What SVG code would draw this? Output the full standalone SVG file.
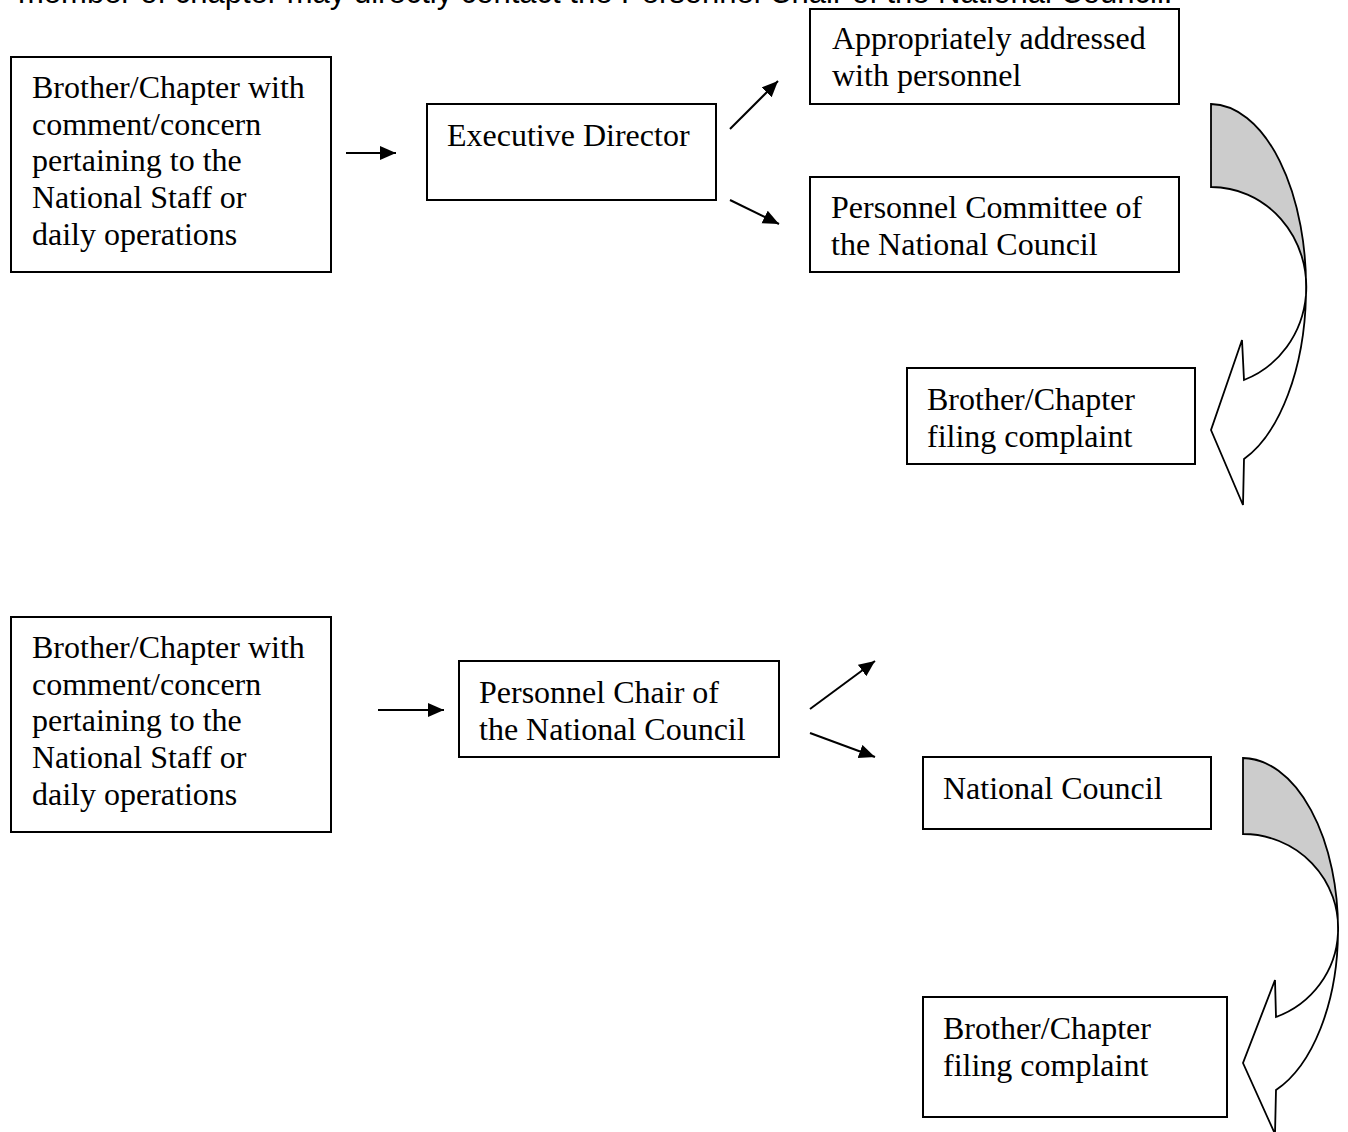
<svg xmlns="http://www.w3.org/2000/svg" width="1348" height="1132" viewBox="0 0 1348 1132">
<defs>
<style>
.box{fill:#ffffff;stroke:#000000;stroke-width:2}
.t{font-family:"Liberation Serif","Times New Roman",serif;font-size:32px;fill:#000000}
.hdr{font-family:"Liberation Sans",Arial,sans-serif;font-size:31px;fill:#000000}
.conn{stroke:#000000;stroke-width:2;fill:none;marker-end:url(#ah)}
.back{fill:#cccccc;stroke:#000000;stroke-width:1.8;stroke-linejoin:miter}
.front{fill:#ffffff;stroke:#000000;stroke-width:1.8;stroke-linejoin:miter}
</style>
<marker id="ah" markerUnits="userSpaceOnUse" markerWidth="18" markerHeight="16" refX="16" refY="7" orient="auto" viewBox="0 0 18 16">
<path d="M0,0 L16,7 L0,14 Z" fill="#000000"/>
</marker>
</defs>
<rect width="1348" height="1132" fill="#ffffff"/>
<text class="hdr" x="18" y="3">member of chapter may directly contact the Personnel Chair of the National Council.</text>

<g id="node-brother-1">
<rect class="box" x="11" y="57" width="320" height="215"/>
<text class="t" x="32" y="98">Brother/Chapter with</text>
<text class="t" x="32" y="135">comment/concern</text>
<text class="t" x="32" y="171">pertaining to the</text>
<text class="t" x="32" y="208">National Staff or</text>
<text class="t" x="32" y="245">daily operations</text>
</g>
<g id="node-executive-director">
<rect class="box" x="427" y="104" width="289" height="96"/>
<text class="t" x="447" y="146">Executive Director</text>
</g>
<g id="node-appropriately">
<rect class="box" x="810" y="9" width="369" height="95"/>
<text class="t" x="832" y="49">Appropriately addressed</text>
<text class="t" x="832" y="86">with personnel</text>
</g>
<g id="node-personnel-committee">
<rect class="box" x="810" y="177" width="369" height="95"/>
<text class="t" x="831" y="218">Personnel Committee of</text>
<text class="t" x="831" y="255">the National Council</text>
</g>
<g id="node-filing-1">
<rect class="box" x="907" y="368" width="288" height="96"/>
<text class="t" x="927" y="410">Brother/Chapter</text>
<text class="t" x="927" y="447">filing complaint</text>
</g>

<g id="node-brother-2">
<rect class="box" x="11" y="617" width="320" height="215"/>
<text class="t" x="32" y="658">Brother/Chapter with</text>
<text class="t" x="32" y="695">comment/concern</text>
<text class="t" x="32" y="731">pertaining to the</text>
<text class="t" x="32" y="768">National Staff or</text>
<text class="t" x="32" y="805">daily operations</text>
</g>
<g id="node-personnel-chair">
<rect class="box" x="459" y="661" width="320" height="96"/>
<text class="t" x="479" y="703">Personnel Chair of</text>
<text class="t" x="479" y="740">the National Council</text>
</g>
<g id="node-national-council">
<rect class="box" x="923" y="757" width="288" height="72"/>
<text class="t" x="943" y="799">National Council</text>
</g>
<g id="node-filing-2">
<rect class="box" x="923" y="997" width="304" height="120"/>
<text class="t" x="943" y="1039">Brother/Chapter</text>
<text class="t" x="943" y="1076">filing complaint</text>
</g>

<g id="connectors">
<line class="conn" x1="346" y1="153" x2="396" y2="153"/>
<line class="conn" x1="730" y1="129" x2="778" y2="81"/>
<line class="conn" x1="730" y1="200" x2="779" y2="224"/>
<line class="conn" x1="378" y1="710" x2="444" y2="710"/>
<line class="conn" x1="810" y1="709" x2="875" y2="661"/>
<line class="conn" x1="810" y1="733" x2="875" y2="757"/>
<g id="curved-arrow-1">
<path class="back" d="M1211,104 A96,183 0 0 1 1306,295 A95,100 0 0 0 1211,187 Z"/>
<path class="front" d="M1306,295 A96,183 0 0 1 1244,459 L1243,505 L1211,430 L1242,340 L1244,380 A95,100 0 0 0 1306,295 Z"/>
</g>
<g id="curved-arrow-2">
<path class="back" d="M1243,758 A96,171 0 0 1 1338,933 A95,94 0 0 0 1243,834 Z"/>
<path class="front" d="M1338,933 A96,171 0 0 1 1276,1090 L1275,1134 L1243,1063 L1275,980 L1276,1017 A95,94 0 0 0 1338,933 Z"/>
</g>
</g>
</svg>
